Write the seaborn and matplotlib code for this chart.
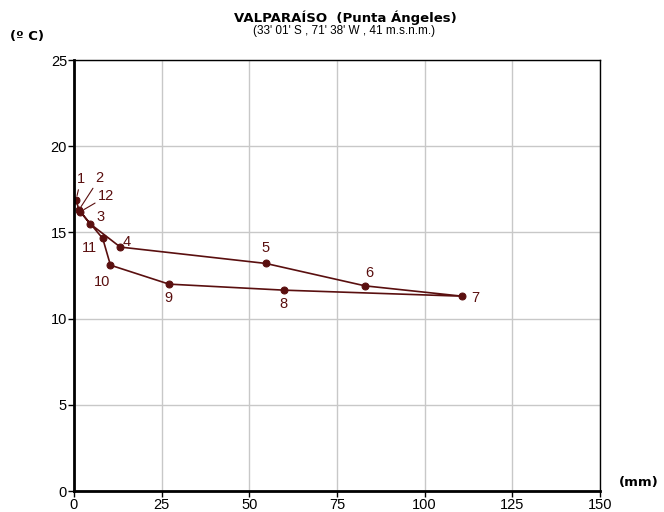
import matplotlib
matplotlib.use("Agg")
import matplotlib.pyplot as plt
import seaborn as sns
import pandas as pd

months = ["1", "2", "3", "4", "5", "6", "7", "8", "9", "10", "11", "12"]
precip = [0.6, 1.4, 4.6, 13.2, 54.7, 83.0, 110.7, 59.9, 27.1, 10.4, 8.2, 1.8]
temp = [16.9, 16.3, 15.5, 14.15, 13.2, 11.9, 11.3, 11.65, 12.0, 13.1, 14.65, 16.2]

x_ticks = [0, 25, 50, 75, 100, 125, 150]
y_ticks = [0, 5, 10, 15, 20, 25]

sns.set_style("white")
plt.rcParams['font.family'] = ['Liberation Sans', 'DejaVu Sans']
plt.rcParams['text.color'] = 'black'
plt.rcParams['xtick.color'] = 'black'
plt.rcParams['ytick.color'] = 'black'

color = "#5a0f0f"
df = pd.DataFrame({"mes": months + [months[0]], "pp": precip + [precip[0]], "t": temp + [temp[0]]})

fig = plt.figure(figsize=(6.64, 5.12), dpi=100)
ax = fig.add_axes([0.1114, 0.041, 0.7922, 0.8418])
sns.lineplot(data=df, x="pp", y="t", sort=False, color=color, lw=1.2, ax=ax,
             marker="o", markersize=5, markeredgecolor=color, markerfacecolor=color)

ax.set_xlim(0, 150)
ax.set_ylim(0, 25)
ax.set_xticks(x_ticks)
ax.set_yticks(y_ticks)
ax.grid(True, color="#c8c8c8", lw=1)
ax.set_xlabel("")
ax.set_ylabel("")
for s in ax.spines.values():
    s.set_color("black")
    s.set_linewidth(1)
ax.spines["left"].set_linewidth(2)
ax.spines["bottom"].set_linewidth(2)
ax.tick_params(axis="both", length=4, width=1, color="black", labelcolor="black",
               labelsize=10.5, direction="out", bottom=True, left=True, pad=1)

# labels (offsets in points)
offsets = {
    "1": (0.5, 9.5), "2": (12, 18), "3": (4.5, 5), "4": (1.5, 4), "5": (-3, 11),
    "6": (0, 9.5), "7": (6.5, -1), "8": (-3, -10), "9": (-3, -10), "10": (-12, -12),
    "11": (-15, -7), "12": (13, 6),
}
leaders = {"1", "2", "12"}
for m, x, y in zip(months, precip, temp):
    dx, dy = offsets[m]
    if m in leaders:
        ax.annotate(m, (x, y), xytext=(dx, dy), textcoords="offset points",
                    fontsize=10.5, color=color, ha="left", va="bottom",
                    arrowprops=dict(arrowstyle="-", color=color, lw=0.8, shrinkA=0, shrinkB=3))
    else:
        ax.annotate(m, (x, y), xytext=(dx, dy), textcoords="offset points",
                    fontsize=10.5, color=color, ha="left", va="center")

fig.text(0.52, 0.966, "VALPARAÍSO  (Punta Ángeles)", ha="center", va="center",
         fontsize=9.5, fontweight="bold", family=["DejaVu Sans"], color="black")
fig.text(0.518, 0.94, "(33' 01' S , 71' 38' W , 41 m.s.n.m.)", ha="center", va="center",
         fontsize=8.5, color="black")
fig.text(0.015, 0.928, "(º C)", ha="left", va="center", fontsize=9.5, fontweight="bold",
         family=["DejaVu Sans"], color="black")
fig.text(0.962, 0.057, "(mm)", ha="center", va="center", fontsize=9.5, fontweight="bold",
         family=["DejaVu Sans"], color="black")

fig.savefig("out.png", dpi=100, facecolor="white")
